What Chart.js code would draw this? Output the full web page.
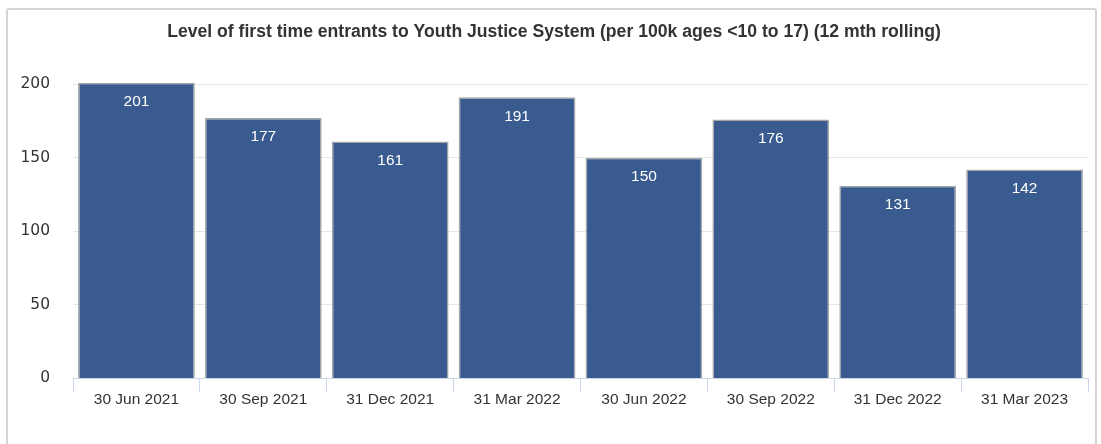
<!DOCTYPE html>
<html>
<head>
<meta charset="utf-8">
<script src="https://cdn.jsdelivr.net/npm/chart.js@4/dist/chart.umd.min.js"></script>
<style>
    html, body { margin: 0; padding: 0; background: #fff; overflow: hidden; }
    #frame {
        position: absolute; left: 6px; top: 8px; width: 1091px; height: 460px;
        border: 2px solid #d4d4d4; border-radius: 3px; box-sizing: border-box;
    }
    #wrap { position: absolute; left: 0; top: 0; width: 1101px; height: 444px; }
</style>
</head>
<body>
<div id="frame"></div>
<div id="wrap"><canvas id="fteChart" width="1101" height="444"></canvas></div>
<script>
// data
const categories = ['30 Jun 2021', '30 Sep 2021', '31 Dec 2021', '31 Mar 2022',
    '30 Jun 2022', '30 Sep 2022', '31 Dec 2022', '31 Mar 2023'];
const fteValues = [201, 177, 161, 191, 150, 176, 131, 142];
const yTicks = [0, 50, 100, 150, 200];

// value labels inside the top of each bar
const barLabels = {
    id: 'barLabels',
    afterDatasetsDraw(chart) {
        const ctx = chart.ctx;
        const meta = chart.getDatasetMeta(0);
        ctx.save();
        ctx.font = '15.5px "Liberation Sans", Arial, sans-serif';
        ctx.fillStyle = '#ffffff';
        ctx.textAlign = 'center';
        ctx.textBaseline = 'middle';
        meta.data.forEach((bar, i) => {
            ctx.fillText(String(fteValues[i]), bar.x, bar.y + 19);
        });
        ctx.restore();
    }
};

const ctx = document.getElementById('fteChart').getContext('2d');
const fteChart = new Chart(ctx, {
    type: 'bar',
    data: {
        labels: categories,
        datasets: [{
            data: fteValues,
            backgroundColor: '#395b8f',
            borderColor: '#a6a6a6',
            borderWidth: 1.5,
            categoryPercentage: 1,
            barPercentage: 0.92,
            clip: false,
        }],
    },
    options: {
        responsive: false,
        animation: false,
        layout: { padding: { left: 20, right: 13, top: 10, bottom: 37 } },
        plugins: {
            legend: { display: false },
            tooltip: { enabled: false },
            title: {
                display: true,
                text: 'Level of first time entrants to Youth Justice System (per 100k ages <10 to 17) (12 mth rolling)',
                color: '#333333',
                font: { family: '"Liberation Sans", Arial, sans-serif', size: 17.6, weight: 'bold' },
                padding: { top: 12, bottom: 41 },
            },
        },
        scales: {
            x: {
                offset: true,
                border: { display: true, color: '#ccd6eb', width: 1 },
                grid: {
                    offset: true,
                    drawOnChartArea: false,
                    drawTicks: true,
                    tickLength: 14,
                    color: '#ccd6eb',
                },
                ticks: {
                    color: '#333333',
                    padding: -2,
                    maxRotation: 0,
                    font: { family: '"Liberation Sans", Arial, sans-serif', size: 15.5 },
                },
            },
            y: {
                min: 0,
                max: 200,
                afterFit(scale) { scale.width = 53; },
                afterBuildTicks(scale) { scale.ticks = yTicks.map(v => ({ value: v })); },
                border: { display: false },
                grid: { color: '#e6e6e6', drawTicks: false, lineWidth: 1 },
                ticks: {
                    color: '#333333',
                    padding: 23,
                    font: { family: '"DejaVu Sans", Verdana, sans-serif', size: 15.5 },
                },
            },
        },
    },
    plugins: [barLabels],
});
</script>
</body>
</html>
